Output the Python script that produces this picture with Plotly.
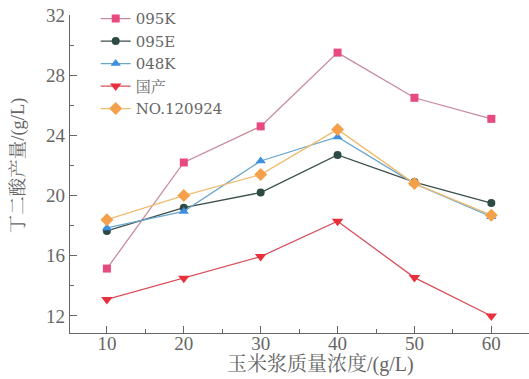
import plotly.graph_objects as go

x_conc = [10, 20, 30, 40, 50, 60]
s_095K = [15.15, 22.2, 24.6, 29.5, 26.5, 25.1]
s_095E = [17.65, 19.2, 20.2, 22.7, 20.9, 19.5]
s_048K = [17.85, 18.95, 22.3, 23.9, 20.8, 18.6]
s_guochan = [13.1, 14.5, 15.95, 18.3, 14.55, 12.0]
s_no120924 = [18.4, 20.0, 21.4, 24.4, 20.8, 18.7]
x_title = "玉米浆质量浓度/(g/L)"
y_title = "丁二酸产量/(g/L)"

series = [
    ("095K", s_095K, "#e84a7f", "#c98a9a", "square", 8),
    ("095E", s_095E, "#2e4a45", "#3d4f4b", "circle", 8),
    ("048K", s_048K, "#3f8fe0", "#6aa6cc", "triangle-up", 9),
    ("国产", s_guochan, "#e8303c", "#d9505a", "triangle-down", 10),
    ("NO.120924", s_no120924, "#f5a04a", "#f0bc70", "diamond", 10),
]

fig = go.Figure()
for name, ys, mc, lc, sym, sz in series:
    fig.add_trace(go.Scatter(
        x=x_conc, y=ys, name=name, mode="lines+markers",
        line=dict(color=lc, width=1.3),
        marker=dict(color=mc, symbol=sym, size=sz),
    ))

serif = "Liberation Serif, Noto Serif CJK SC, Noto Sans CJK SC"
wide = "DejaVu Serif, Noto Serif CJK SC, Noto Sans CJK SC"
axcol = "#666666"
fig.update_layout(
    width=529, height=379,
    margin=dict(l=70, r=0, t=15, b=46),
    paper_bgcolor="white", plot_bgcolor="white",
    font=dict(family=serif, size=18, color="#666666"),
    showlegend=True,
    legend=dict(x=0.056, y=1.04, xanchor="left", yanchor="top",
                bgcolor="rgba(0,0,0,0)", font=dict(size=15, color="#666666", family=wide),
                tracegroupgap=0, itemwidth=30),
    xaxis=dict(
        range=[5.2, 64.9], tickvals=x_conc, ticks="inside", ticklen=7,
        tickcolor=axcol, showline=True, linecolor=axcol, linewidth=1.3,
        showgrid=False, zeroline=False, tickfont=dict(size=19, family=serif),
        ticklabelstandoff=-7,
        minor=dict(tick0=5, dtick=10, ticks="inside", ticklen=4, tickcolor=axcol),
    ),
    yaxis=dict(
        range=[10.87, 32], tickvals=[12, 16, 20, 24, 28, 32], ticks="inside", ticklen=7,
        tickcolor=axcol, showline=True, linecolor=axcol, linewidth=1.3,
        showgrid=False, zeroline=False, tickfont=dict(size=19, family=serif),
        minor=dict(tick0=10, dtick=4, ticks="inside", ticklen=4, tickcolor=axcol),
    ),
    annotations=[
        dict(text=x_title, xref="paper", yref="paper", x=0.545, y=-0.0975,
             xanchor="center", yanchor="middle", showarrow=False,
             font=dict(size=20, family=serif, color="#666666")),
        dict(text=y_title, xref="paper", yref="paper", x=-0.113, y=0.528,
             xanchor="center", yanchor="middle", showarrow=False, textangle=-90,
             font=dict(size=18.5, family=serif, color="#666666")),
    ],
)

fig.write_html("out.html")
